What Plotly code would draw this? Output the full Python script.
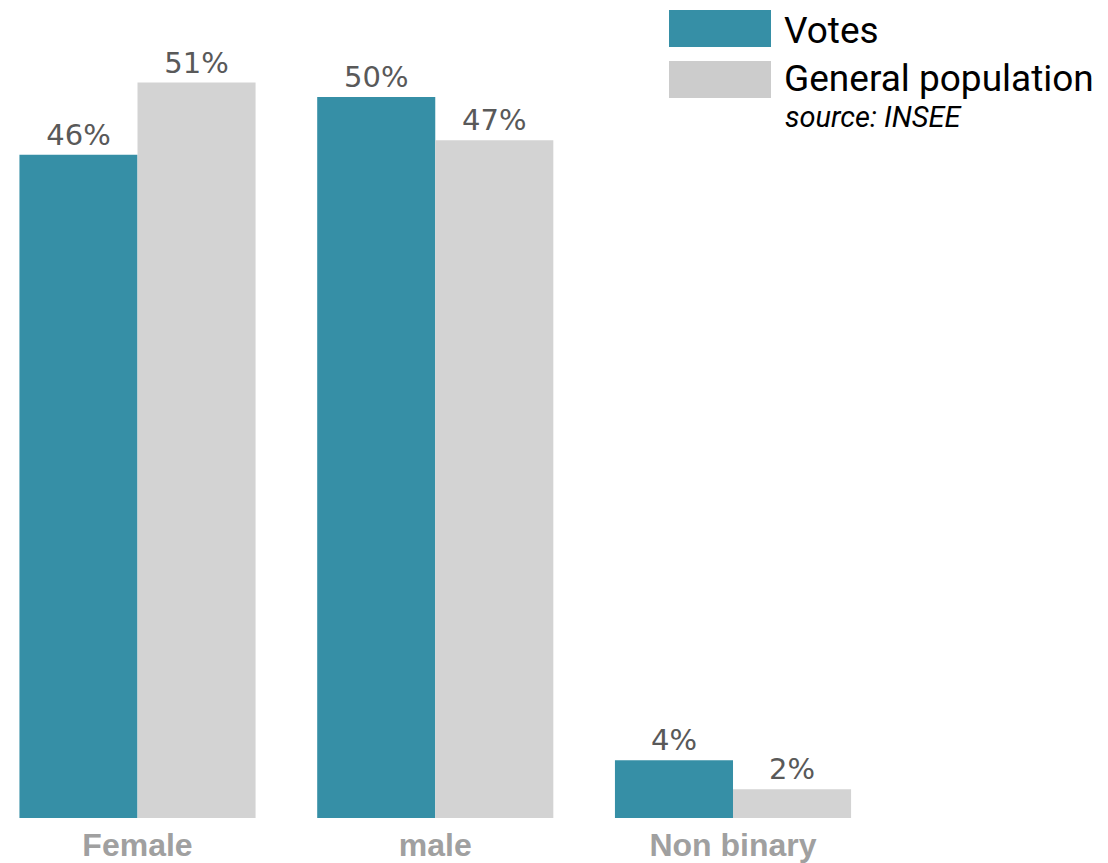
import plotly.graph_objects as go

# Share of respondents by gender vs. the general population
categories = ["Female", "male", "Non binary"]
votes = [46, 50, 4]
population = [51, 47, 2]

TEAL = "#368FA6"
GREY = "#D3D3D3"

W, H = 1108, 863
MT, MB = 0, 45
PLOT_H = H - MT - MB


def py(pix):
    """Convert a pixel row (from the top of the page) to paper y."""
    return (H - MB - pix) / PLOT_H


label_font = dict(family="DejaVu Sans", size=29, color="#595959")

fig = go.Figure()
fig.add_trace(go.Bar(
    x=categories, y=votes, name="Votes",
    marker=dict(color=TEAL, line=dict(width=0)),
    text=[f"{v}%" for v in votes], textposition="outside",
    textfont=label_font, cliponaxis=False,
))
fig.add_trace(go.Bar(
    x=categories, y=population, name="General population",
    marker=dict(color=GREY, line=dict(width=0)),
    text=[f"{v}%" for v in population], textposition="outside",
    textfont=label_font, cliponaxis=False,
))

# Custom legend: colour boxes and labels in the top-right corner
fig.add_shape(type="rect", xref="paper", yref="paper",
              x0=669 / W, x1=771 / W, y0=py(47), y1=py(10),
              fillcolor=TEAL, line=dict(width=0), layer="above")
fig.add_shape(type="rect", xref="paper", yref="paper",
              x0=669 / W, x1=771 / W, y0=py(98), y1=py(61),
              fillcolor="#CCCCCC", line=dict(width=0), layer="above")
fig.add_annotation(x=783 / W, y=py(30), xref="paper", yref="paper",
                   text="Votes", showarrow=False, xanchor="left", yanchor="middle",
                   borderpad=0,
                   font=dict(family="Roboto", size=37, color="#000000"))
fig.add_annotation(x=783 / W, y=py(78), xref="paper", yref="paper",
                   text="General population", showarrow=False,
                   xanchor="left", yanchor="middle", borderpad=0,
                   font=dict(family="Roboto", size=37, color="#000000"))
fig.add_annotation(x=784 / W, y=py(117), xref="paper", yref="paper",
                   text="<i>source: INSEE</i>", showarrow=False,
                   xanchor="left", yanchor="middle", borderpad=0,
                   font=dict(family="Roboto", size=29, color="#000000"))

fig.update_layout(
    width=W, height=H,
    margin=dict(l=0, r=0, t=MT, b=MB, pad=0),
    paper_bgcolor="white", plot_bgcolor="white",
    barmode="group", bargap=0.207, bargroupgap=0,
    showlegend=False,
    xaxis=dict(
        range=[-0.4618, 3.2594], showgrid=False, zeroline=False,
        showline=False, ticks="", automargin=False, ticklabelstandoff=5,
        tickfont=dict(family="Liberation Sans", size=32, color="#A0A0A0",
                      weight="bold"),
    ),
    yaxis=dict(
        range=[0, PLOT_H / 14.42], visible=False, showgrid=False,
        zeroline=False, automargin=False,
    ),
)

fig.write_html("out.html")
